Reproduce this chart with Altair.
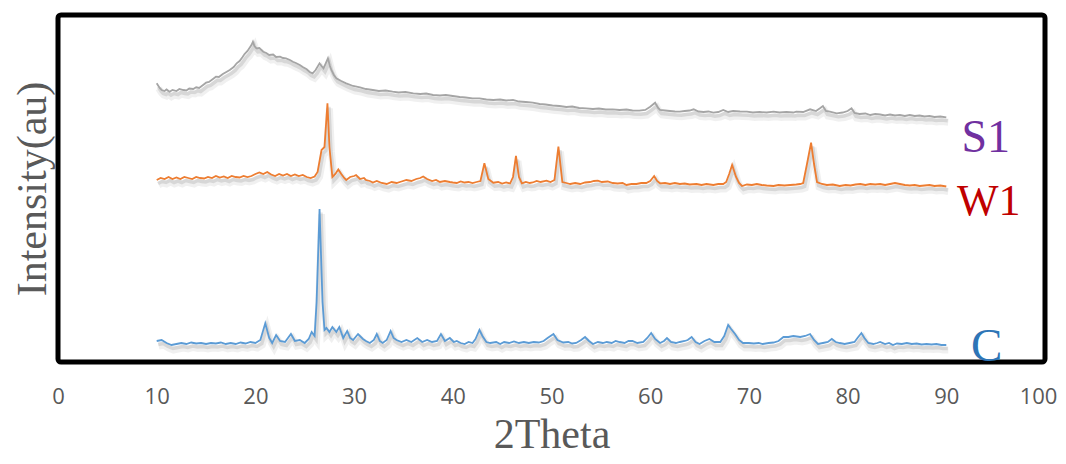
import altair as alt
import pandas as pd

# ---- data (2Theta in degrees, intensity in arbitrary units, offsets included) ----
S1_theta = [10.0, 10.3, 10.5, 10.8, 11.0, 11.3, 11.6, 12.0, 12.3, 12.7, 13.0, 13.3, 13.7, 14.0, 14.3, 14.7,
            15.0, 15.3, 15.7, 16.0, 16.3, 16.7, 17.1, 17.4, 17.8, 18.1, 18.4, 18.7, 18.9, 19.2, 19.4, 19.6,
            19.75, 19.9, 20.1, 20.4, 20.8, 21.1, 21.4, 21.8, 22.1, 22.5, 22.8, 23.1, 23.5, 23.8, 24.1, 24.5,
            24.8, 25.2, 25.5, 25.8, 26.1, 26.5, 26.7, 26.9, 27.1, 27.35, 27.55, 27.7, 27.95, 28.2, 28.7, 29.2,
            29.9, 30.6, 31.2, 31.9, 32.5, 33.2, 33.9, 34.5, 35.2, 36.0, 36.7, 37.3, 38.0, 38.7, 39.3, 40.0,
            40.7, 41.3, 42.0, 42.7, 43.4, 44.1, 44.8, 45.4, 46.1, 46.7, 47.4, 48.1, 48.8, 49.4, 50.1, 50.8,
            51.5, 52.1, 52.8, 53.5, 54.2, 54.8, 55.5, 56.2, 56.9, 57.6, 58.2, 58.9, 59.5, 60.0, 60.5, 60.8,
            61.0, 61.5, 62.0, 62.5, 63.0, 63.5, 64.0, 64.4, 64.9, 65.4, 65.9, 66.4, 66.9, 67.4, 67.9, 68.4,
            69.1, 69.8, 70.4, 71.1, 71.8, 72.5, 73.1, 73.8, 74.5, 74.8, 75.5, 76.2, 76.8, 77.2, 77.5, 77.8,
            78.2, 78.9, 79.5, 80.0, 80.4, 80.7, 81.2, 81.8, 82.3, 82.8, 83.3, 83.8, 84.3, 84.8, 85.3, 85.8,
            86.3, 86.8, 87.3, 87.8, 88.3, 88.8, 89.4, 90.0]
S1_int = [278.7, 274, 272, 271, 272.5, 270.3, 272, 271, 273, 272, 271.5, 273.5, 273, 274.7, 274, 277,
          279.3, 280, 283, 285.3, 285, 288, 290.3, 292, 295, 298.7, 301, 305, 308, 311, 314, 317,
          320.3, 316, 313.7, 314, 310.3, 309, 307, 307.5, 305, 305.3, 304, 303.7, 302, 300.3, 299, 297,
          295, 292.7, 290, 288.7, 292, 298.7, 296, 293.7, 298, 303.7, 296, 292, 287, 283.7, 281, 278.7,
          276, 274.7, 273, 272, 271, 271.5, 270.3, 269.5, 270, 268.7, 268, 268.5, 267, 266.5, 267, 266,
          265, 264.5, 263.7, 263.7, 262.5, 262, 262.5, 261.5, 262, 260.5, 260, 259.3, 258, 257.5, 256.5, 256,
          255, 255.5, 254, 253.7, 253, 253.5, 252.5, 252.7, 252, 252.5, 251.5, 251.3, 252, 255.3, 259.3, 254,
          252, 251.5, 251, 250.5, 250.3, 251, 251.5, 252.7, 250.5, 250, 250.5, 249.3, 250, 252, 250, 251,
          250.5, 250.3, 249.5, 250, 249.5, 250.3, 249.5, 250, 249.5, 250.3, 250, 252.7, 251, 253.7, 256, 251,
          250.3, 248.7, 249.5, 251, 253.7, 249, 248, 248.5, 247, 248, 247.5, 246.5, 247.5, 246.5, 247, 246,
          247, 246, 246.5, 245.5, 246, 245, 245.5, 244.7]

W1_theta = [10.0, 10.4, 10.8, 11.2, 11.6, 12.0, 12.4, 12.8, 13.2, 13.6, 14.0, 14.4, 14.8, 15.2, 15.6, 16.0,
            16.4, 16.8, 17.2, 17.6, 18.0, 18.4, 18.8, 19.2, 19.6, 20.0, 20.4, 20.8, 21.2, 21.6, 22.0, 22.4,
            22.8, 23.2, 23.6, 24.0, 24.4, 24.8, 25.2, 25.6, 26.0, 26.3, 26.7, 27.0, 27.3, 27.5, 27.8, 28.1,
            28.4, 28.7, 29.0, 29.2, 29.6, 30.0, 30.2, 30.6, 31.0, 31.2, 31.6, 31.9, 32.3, 32.8, 33.3, 33.8,
            34.3, 34.8, 35.3, 35.8, 36.3, 36.7, 37.0, 37.4, 37.9, 38.3, 38.7, 39.2, 39.7, 40.0, 40.4, 40.8,
            41.2, 41.6, 42.0, 42.4, 42.8, 43.2, 43.6, 44.1, 44.6, 45.0, 45.4, 45.8, 46.1, 46.4, 46.7, 47.0,
            47.4, 47.8, 48.1, 48.5, 48.9, 49.5, 49.9, 50.3, 50.7, 51.1, 51.5, 51.9, 52.4, 52.9, 53.4, 53.9,
            54.3, 54.7, 55.1, 55.7, 56.2, 56.7, 57.2, 57.6, 58.1, 58.6, 59.1, 59.6, 60.0, 60.4, 60.7, 61.0,
            61.5, 62.0, 62.5, 63.0, 63.5, 64.0, 64.7, 65.2, 65.7, 66.4, 66.9, 67.4, 67.7, 68.0, 68.3, 68.7,
            69.0, 69.3, 69.8, 70.3, 70.8, 71.3, 71.8, 72.5, 73.0, 73.6, 74.2, 74.8, 75.2, 75.5, 75.9, 76.3,
            76.6, 76.9, 77.4, 77.9, 78.5, 79.2, 79.8, 80.3, 80.8, 81.3, 81.8, 82.3, 82.8, 83.3, 83.8, 84.3,
            84.8, 85.3, 85.8, 86.3, 86.8, 87.3, 87.8, 88.3, 88.8, 89.4, 90.0]
W1_int = [182, 184, 183, 185, 183, 184.5, 183, 185, 184, 183, 185, 184, 183.5, 185, 184, 186,
          184.5, 185.5, 184, 186, 185, 184.5, 186, 185, 186, 188, 189.5, 188, 190, 187.5, 186, 188,
          186.5, 188, 186, 187.5, 186, 187, 185, 184, 185.5, 190, 212, 215, 258.7, 215, 185, 188,
          192.5, 188, 184, 182, 185, 186, 187, 183, 184, 182, 181, 179.5, 181, 179, 178, 180,
          179, 180.5, 182, 181, 183, 184, 185.5, 183, 181, 182, 180, 181, 180, 179.5, 179, 180.5,
          179.5, 180, 179, 180, 181, 198.7, 183, 179.3, 180, 178.5, 179.5, 178.5, 185, 206, 185, 178.7,
          180, 179, 179.5, 181, 180, 181.3, 180, 182, 215.3, 180, 179, 178, 179, 178, 179.5, 180,
          181, 181.3, 180, 180.5, 179, 178.5, 179, 177, 178, 178, 179, 179, 181, 186, 181, 178.7,
          179, 178, 179, 178, 178.5, 177.5, 178, 177, 178, 177, 178, 178, 180, 188, 197, 185,
          179, 176, 177.5, 177, 178, 177, 176.5, 176, 177, 176.5, 177, 177.5, 178, 179, 198.7, 219.3,
          198, 180, 178, 177, 177.5, 176, 177, 176.5, 177.5, 178, 177, 178, 177.5, 178, 177, 178,
          179, 178, 177, 176.5, 177, 176, 176.5, 177, 176, 176.5, 175.5]

C_theta = [10.0, 10.5, 11.0, 11.5, 12.0, 12.5, 13.0, 13.5, 14.0, 14.5, 15.0, 15.5, 16.0, 16.5, 17.0, 17.5,
           18.0, 18.5, 19.0, 19.5, 20.0, 20.5, 21.0, 21.4, 21.7, 22.1, 22.5, 23.0, 23.6, 24.0, 24.5, 25.0,
           25.4, 25.7, 26.0, 26.2, 26.5, 26.8, 27.0, 27.2, 27.5, 27.8, 28.2, 28.5, 28.9, 29.3, 29.6, 29.9,
           30.4, 30.9, 31.2, 31.6, 32.0, 32.3, 32.6, 32.9, 33.3, 33.7, 34.0, 34.3, 34.8, 35.3, 35.8, 36.4,
           36.9, 37.4, 37.9, 38.4, 38.8, 39.2, 39.7, 40.1, 40.4, 40.8, 41.2, 41.6, 42.0, 42.3, 42.7, 43.0,
           43.4, 43.8, 44.4, 44.8, 45.2, 45.7, 46.2, 46.7, 47.2, 47.7, 48.2, 48.7, 49.2, 49.6, 50.2, 50.6,
           51.2, 51.7, 52.1, 52.5, 53.0, 53.4, 53.8, 54.2, 54.7, 55.2, 55.6, 56.1, 56.5, 56.9, 57.4, 57.8,
           58.2, 58.7, 59.3, 59.7, 60.1, 60.5, 61.0, 61.4, 61.7, 62.1, 62.6, 63.0, 63.5, 63.8, 64.2, 64.6,
           65.0, 65.5, 66.0, 66.5, 67.1, 67.5, 67.9, 68.2, 68.6, 69.0, 69.4, 70.0, 70.5, 71.0, 71.4, 72.0,
           72.5, 73.0, 73.5, 74.0, 74.5, 75.2, 75.7, 76.2, 76.6, 77.0, 77.5, 78.0, 78.4, 78.8, 79.2, 79.7,
           80.2, 80.7, 81.0, 81.4, 81.7, 82.1, 82.6, 83.0, 83.3, 83.8, 84.2, 84.6, 85.0, 85.5, 86.0, 86.5,
           87.0, 87.5, 88.0, 88.5, 89.0, 89.5, 90.0]
C_int = [21, 22, 19, 17, 18, 19, 18, 19.5, 18.5, 19, 18, 19, 18.5, 19.5, 18, 19,
         18, 19.5, 18.5, 20, 19, 22, 38.7, 24, 19, 27, 21, 20, 28, 21, 22, 19,
         23, 30, 26, 60, 153, 60, 32, 34, 30, 35, 30, 35, 24, 31, 24, 22,
         28, 23, 21, 19, 22, 28, 21, 19, 22, 31, 24, 22, 20, 22, 20, 24,
         20, 22, 20, 21, 28, 21, 24, 20, 21, 19, 18, 20, 19, 23, 32, 26,
         20, 19, 20, 18, 20, 19, 20.5, 19, 20, 19, 20, 19.5, 21, 24, 28, 22,
         19.5, 20, 18.5, 19, 22, 25, 21, 18, 20, 19, 20, 19, 21, 20, 19, 21,
         21, 19, 20, 24, 29, 23, 19, 21, 24, 20, 19, 20, 21, 22, 25, 20,
         18, 21, 23, 20, 20, 26, 37, 33, 28, 22, 19, 19, 18.5, 19, 18, 19,
         19.5, 21, 25, 25, 26, 25, 26, 28, 22, 18, 19, 20, 23, 20, 19, 18,
         19, 20, 24, 29, 24, 19, 18, 19, 20, 18, 19, 17, 18.5, 18, 19, 18,
         18.5, 17.5, 18, 17.5, 18, 17, 17]

series_names = ["S1", "W1", "C"]
series_colors = ["#A5A5A5", "#ED7D31", "#5B9BD5"]

label_text = ["S1", "W1", "C"]
label_theta = [94.0, 94.3, 94.1]
label_int = [210, 147, 1]
label_colors = ["#7030A0", "#C00000", "#2E75B6"]
label_sizes = [46, 44, 47]

x_ticks = list(range(0, 101, 10))

# ---- tables ----
rows = []
for name, xs, ys in [("S1", S1_theta, S1_int), ("W1", W1_theta, W1_int), ("C", C_theta, C_int)]:
    for a, b in zip(xs, ys):
        rows.append({"series": name, "theta": a, "intensity": b})
df = pd.DataFrame(rows)
labels = pd.DataFrame({"label": label_text, "theta": label_theta, "intensity": label_int,
                       "color": label_colors, "size": label_sizes})

X = alt.X("theta:Q", scale=alt.Scale(domain=[0, 100], nice=False, zero=False),
          axis=alt.Axis(values=x_ticks, title="2Theta", domain=False, ticks=False, grid=False,
                        labelFont="Open Sans", labelFontSize=22, labelColor="#595959",
                        labelPadding=24, labelFlush=False,
                        labelOffset={"condition": {"test": "datum.value == 100", "value": -7}, "value": 0},
                        titleFont="Liberation Serif", titleFontSize=42, titleFontWeight="normal",
                        titleColor="#595959", titlePadding=7))
Y = alt.Y("intensity:Q", scale=alt.Scale(domain=[0, 347], nice=False, zero=False),
          axis=alt.Axis(title="Intensity(au)", labels=False, ticks=False, domain=False, grid=False,
                        titleFont="Liberation Serif", titleFontSize=42, titleFontWeight="normal",
                        titleColor="#595959", titlePadding=4))

base = alt.Chart(df).encode(x=X, y=Y, detail="series:N")

shadow1 = base.mark_line(strokeWidth=7, opacity=0.06, xOffset=2, yOffset=5, color="#000000")
shadow2 = base.mark_line(strokeWidth=3.5, opacity=0.10, xOffset=1.5, yOffset=3.5, color="#000000")
lines = base.mark_line(strokeWidth=1.8).encode(
    color=alt.Color("series:N", scale=alt.Scale(domain=series_names, range=series_colors), legend=None)
)

text = alt.Chart(labels).mark_text(font="Liberation Serif", baseline="alphabetic", align="center").encode(
    x=X, y=Y, text="label:N",
    color=alt.Color("color:N", scale=None),
    size=alt.Size("size:Q", scale=None),
)

chart = alt.layer(shadow1, shadow2, lines, text).properties(
    width=987, height=347,
    autosize=alt.AutoSizeParams(type="none"),
    padding={"left": 50, "top": 7, "right": 13, "bottom": 99},
    background="white",
).configure_view(
    stroke="#000000", strokeWidth=5, cornerRadius=3
)

chart.save("out.html", embed_options={"renderer": "svg", "actions": False})
